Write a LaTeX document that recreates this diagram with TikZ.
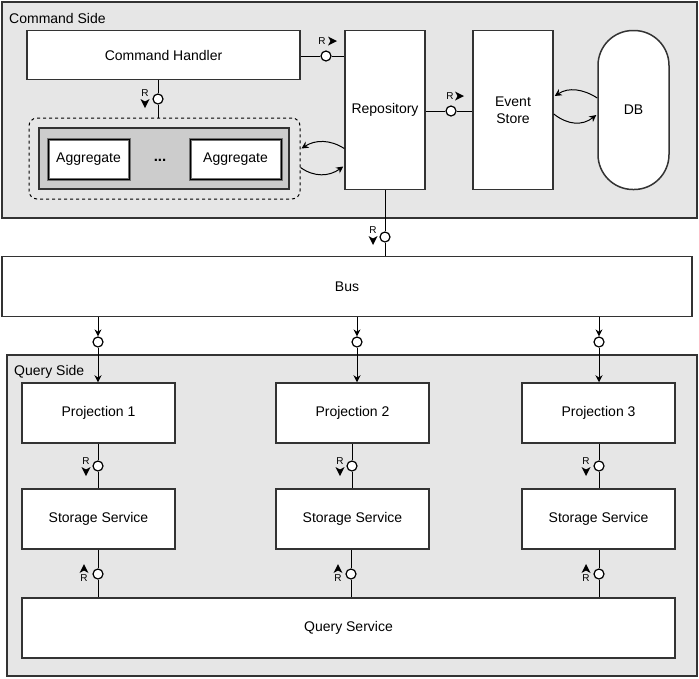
\documentclass[tikz,border=0pt]{standalone}
\usepackage{fontspec}
\setmainfont{Liberation Sans}
\usetikzlibrary{calc,arrows.meta}

\definecolor{sidegray}{HTML}{E6E6E6}
\definecolor{agggray}{HTML}{CCCCCC}
\definecolor{edgegray}{HTML}{333333}

\begin{document}
\begin{tikzpicture}[x=1pt, y=-1pt,
    side/.style={draw=edgegray, fill=sidegray, line width=1.5pt},
    box/.style={draw=edgegray, fill=white, line width=1.5pt, font=\fontsize{14}{16.5}\selectfont},
    aggbox/.style={draw=black!55, double=black, double distance=0.8pt, line width=1.1pt, fill=white, font=\fontsize{14}{16.5}\selectfont},
    sidelabel/.style={anchor=west, inner sep=0pt, font=\fontsize{14}{16.5}\selectfont},
    port/.style={circle, draw, fill=white, line width=1.2pt, minimum size=10pt, inner sep=0pt},
    rtext/.style={inner sep=0pt, font=\fontsize{10}{11}\selectfont},
    conn/.style={line width=1pt},
    tip/.style={-{Stealth[length=7pt, width=7pt]}},
    rtip/.pic={\fill (5,0) -- (-4,-4.5) -- (-1.5,0) -- (-4,4.5) -- cycle;}
  ]
  \useasboundingbox (0,0) rectangle (699,678);

  % Command side
  \node[side, minimum width=695, minimum height=216] (cmdside) at (349.5,110) {};
  \node[sidelabel] (cmdlabel) at (9,18) {Command Side};
  \node[box, minimum width=273, minimum height=49] (handler) at (163.5,55) {Command Handler};
  \node[box, minimum width=80, minimum height=159] (repo) at (385,110) {Repository};
  \node[box, minimum width=80, minimum height=159, align=center] (store) at (513,110) {Event\\Store};
  \node[box, minimum width=71, minimum height=159, rounded corners=35pt] (db) at (633.5,110) {DB};
  % Aggregates
  \node[draw, dashed, line width=1pt, rounded corners=8pt, minimum width=271, minimum height=81] (aggwrap) at (164.5,158.5) {};
  \node[draw=edgegray, fill=agggray, line width=1.2pt, minimum width=250, minimum height=61] (aggframe) at (164,158.5) {};
  \node[aggbox, minimum width=81, minimum height=40] (agg1) at (88.5,159) {Aggregate};
  \node[aggbox, minimum width=91, minimum height=40] (agg2) at (235.5,159) {Aggregate};
  \node[font=\fontsize{15}{16}\selectfont\bfseries] (aggdots) at (160,160) {...};

  % Bus
  \node[box, minimum width=690, minimum height=60] (bus) at (347,286.5) {Bus};

  % Query side
  \node[side, minimum width=690, minimum height=321] (qryside) at (352,515.5) {};
  \node[sidelabel] (qrylabel) at (14,372) {Query Side};
  \node[box, minimum width=153, minimum height=60] (proj1) at (98.5,413) {Projection 1};
  \node[box, minimum width=153, minimum height=60] (proj2) at (352.5,413) {Projection 2};
  \node[box, minimum width=153, minimum height=60] (proj3) at (598.5,413) {Projection 3};
  \node[box, minimum width=153, minimum height=60] (store1) at (98.5,519) {Storage Service};
  \node[box, minimum width=153, minimum height=60] (store2) at (352.5,519) {Storage Service};
  \node[box, minimum width=153, minimum height=60] (store3) at (598.5,519) {Storage Service};
  \node[box, minimum width=653, minimum height=60] (query) at (348.5,628) {Query Service};

  % Ports
  \node[port] (hp) at (326,56) {};
  \node[port] (ap) at (158,99) {};
  \node[port] (ep) at (451,111) {};
  \node[port] (rp) at (385,237) {};
  \node[port] (bp1) at (98,342) {};
  \node[port] (bp2) at (357,342) {};
  \node[port] (bp3) at (599,342) {};
  \node[port] (sp1) at (98,466) {};
  \node[port] (sp2) at (352,466) {};
  \node[port] (sp3) at (599,466) {};
  \node[port] (qp1) at (98,574) {};
  \node[port] (qp2) at (351,574) {};
  \node[port] (qp3) at (599,574) {};

  % Connectors
  \draw[conn] (hp -| handler.east) -- (hp) -- (hp -| repo.west);
  \draw[conn] (ap |- handler.south) -- (ap) -- (ap |- aggwrap.north);
  \draw[conn] (ep -| repo.east) -- (ep) -- (ep -| store.west);
  \draw[conn] (rp |- repo.south) -- (rp) -- (rp |- bus.north);
  \foreach \i in {1,2,3} {
    \draw[conn, tip] (bp\i |- bus.south) -- (bp\i);
    \draw[conn, tip] (bp\i) -- (bp\i |- proj\i.north);
    \draw[conn] (sp\i |- proj\i.south) -- (sp\i) -- (sp\i |- store\i.north);
    \draw[conn] (qp\i |- store\i.south) -- (qp\i) -- (qp\i |- query.north);
  }
  % Curved arrows
  \draw[conn, tip] ($(repo.west |- aggwrap.east)+(0,-10)$) .. controls +(-14,-9) and +(14,-9) .. ($(aggwrap.east)+(1,-10)$);
  \draw[conn, tip] ($(aggwrap.east)+(0,9)$) .. controls +(14,10) and +(-14,10) .. ($(repo.west |- aggwrap.east)+(-1,8)$);
  \draw[conn, tip] ($(db.west)+(0,-12)$) .. controls +(-14,-9) and +(14,-9) .. ($(store.east)+(1,-14)$);
  \draw[conn, tip] ($(store.east)+(0,4)$) .. controls +(14,11) and +(-14,11) .. ($(db.west)+(-1,5)$);

  % R marks
  \node[rtext] (r1) at (322,41) {R};
  \pic at (332,41) {rtip};
  \node[rtext] (r2) at (145,93) {R};
  \pic[rotate=-90] at (145,103) {rtip};
  \node[rtext] (r3) at (450,96) {R};
  \pic at (459,96) {rtip};
  \node[rtext] (r4) at (373,230) {R};
  \pic[rotate=-90] at (373,240) {rtip};
  \foreach \x in {86,340,586} {
    \node[rtext] at (\x,461) {R};
    \pic[rotate=-90] at (\x,471) {rtip};
  }
  \foreach \x in {84,338,586} {
    \pic[rotate=90] at (\x,569) {rtip};
    \node[rtext] at (\x,578) {R};
  }
\end{tikzpicture}
\end{document}
